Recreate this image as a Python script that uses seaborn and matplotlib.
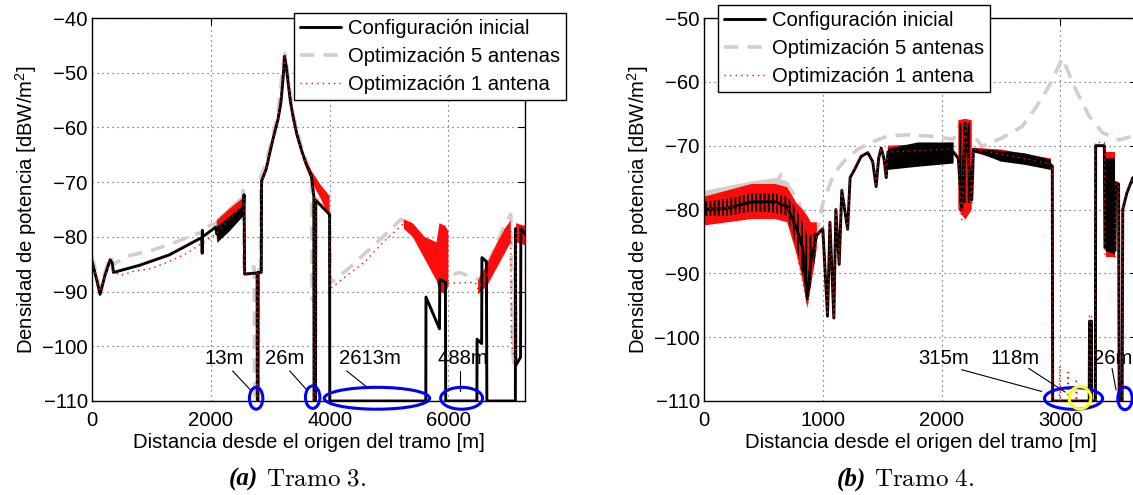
import numpy as np
import pandas as pd
import matplotlib
matplotlib.use("Agg")
import matplotlib.pyplot as plt
import seaborn as sns
from matplotlib.patches import Ellipse
from matplotlib.lines import Line2D

NaN = float("nan")

# ======================= DATA =======================
series_names = ["Configuración inicial", "Optimización 5 antenas", "Optimización 1 antena"]

# ---- Tramo 3 (x [m], density [dBW/m2]) ----
t3_ini = [(0, -84.5), (60, -87), (136, -90.5), (220, -87), (305, -84.2), (340, -84.8), (361, -86.5),
          (800, -85.2), (1300, -83.3), (1800, -80.4), (1852, -80.2), (1855, -83), (1858, -78.8), (1862, -80),
          (2085, -78.2), (2100, -79.5), (2550, -75), (2560, -72.3), (2570, -86.8), (2780, -86.6), (2783, -110),
          (2795, -110), (2798, -86.5), (2850, -86.5), (2855, -69.8), (2930, -67.7), (3045, -62.2), (3130, -58.6),
          (3180, -55.5), (3215, -51.3), (3243, -47.0), (3270, -48.8), (3299, -51.6), (3340, -55.2), (3384, -58.0),
          (3450, -61.3), (3525, -64.1), (3610, -66.8), (3695, -68.9), (3735, -72.6),
          (3738, -110), (3764, -110), (3767, -73.3), (3900, -74.8), (4000, -75.9), (4003, -110), (5620, -110),
          (5623, -91), (5850, -96.8), (5856, -87.8), (5950, -88.3), (5955, -110), (6480, -110), (6483, -98.7),
          (6560, -99.5), (6565, -83.8), (6640, -84.5), (6645, -100.8), (6648, -110), (7128, -110),
          (7130, -78.5), (7135, -103.5), (7215, -102), (7220, -78.5), (7290, -79.5)]
t3_opt5 = [(0, -83.5), (136, -89.5), (305, -83.5), (361, -85), (600, -83.5), (1000, -82.5), (1400, -81),
           (1800, -79.3), (1852, -79.3), (1855, -82), (1858, -78.5), (2085, -77.5), (2540, -73), (2545, -71.5),
           (2560, -86), (2730, -85.5), (2740, -109), (2800, -109), (2805, -86), (2840, -86), (2845, -69),
           (2930, -66.5), (3045, -61.5), (3130, -57.5), (3230, -47.5), (3250, -46.5), (3300, -50.5), (3384, -57.5),
           (3525, -63.5), (3690, -68.5), (3700, -72), (3705, -91.4), (3760, -91), (3765, -73), (3850, -73.5),
           (3950, -74.5), (4000, -75.5), (4010, -88.5), (4300, -86), (4600, -83), (4900, -80), (5200, -76.8),
           (5400, -78), (5600, -81.5), (5800, -85), (5950, -87.5), (6180, -86.5), (6520, -87.8), (6700, -84),
           (6900, -79), (7050, -75.9), (7080, -101), (7100, -103), (7130, -80), (7290, -78)]
t3_opt1 = [(0, -84.5), (136, -90), (305, -84.5), (361, -86.5), (500, -87), (700, -86.3), (1000, -85.8),
           (1300, -84.5), (1600, -83), (1900, -80.8), (2085, -79.5), (2550, -74), (2560, -73), (2570, -87),
           (2770, -86.5), (2775, -110), (2790, -110), (2795, -86.5), (2850, -86.5), (2855, -70), (2930, -67.5),
           (3045, -62), (3130, -58.5), (3215, -51), (3243, -47.2), (3299, -51.8), (3384, -58.2), (3525, -64.5),
           (3695, -69), (3730, -72), (3733, -110), (3760, -110), (3763, -73), (4000, -75.5), (4006, -89.5),
           (4300, -87), (4600, -84.5), (4900, -81), (5250, -77.5), (5600, -82), (5850, -86), (6000, -88.5),
           (6450, -88.3), (6500, -89.5), (6800, -84), (7050, -79), (7065, -100), (7130, -103), (7140, -79),
           (7290, -79.5)]
# oscillation envelopes (x, lower, upper)
t3_ini_band = [(2100, -81, -78), (2300, -79, -76.3), (2550, -76, -74)]
t3_opt5_band = [(2100, -79, -76.5), (2300, -77, -74.5), (2550, -75, -72)]
t3_opt1_band = [(2100, -80.5, -77), (2300, -78.5, -75), (2550, -76, -72.8), (NaN, NaN, NaN),
                (3550, -65.8, -65), (3700, -70, -68), (3850, -73, -70.5), (4000, -76.5, -72.5), (NaN, NaN, NaN),
                (5250, -78.5, -76.8), (5400, -80, -77.5), (5600, -84, -80), (5800, -88, -81), (5850, -90, -77.5),
                (5950, -90.5, -78), (6000, -89, -79), (NaN, NaN, NaN),
                (6500, -90.5, -88), (6650, -89, -85), (6800, -86, -81.5), (6950, -83, -78.5), (7050, -81, -77),
                (NaN, NaN, NaN), (7140, -81, -77.5), (7290, -81.5, -78)]
t3_gap_labels = ["13m", "26m", "2613m", "488m"]

# ---- Tramo 4 ----
t4_ini = [(0, -80), (200, -79.8), (400, -78.8), (600, -78.8), (700, -79.5), (780, -83), (830, -86), (870, -94),
          (900, -88), (950, -84), (1000, -83), (1040, -96.7), (1060, -82), (1093, -97), (1110, -80), (1138, -88.6),
          (1160, -77), (1209, -83.1), (1230, -75), (1266, -73.8), (1322, -71.7), (1379, -71.1), (1420, -72.5),
          (1449, -76.4), (1470, -72), (1492, -70.4), (1515, -72), (1534, -75), (1548, -71), (1800, -71.5),
          (2100, -71), (2141, -72), (2169, -80), (2200, -66.5), (2254, -78.5), (2268, -70.6), (2340, -70.9),
          (2500, -71.6), (2700, -72.1), (2920, -73), (2932, -73.2), (2935, -110), (3243, -110), (3245, -97.5),
          (3262, -97.5), (3264, -110), (3295, -110), (3297, -70), (3370, -70), (3375, -86), (3460, -86.5),
          (3465, -75.8), (3490, -76), (3495, -110), (3520, -110), (3525, -80), (3560, -77.4), (3610, -75),
          (3645, -78)]
t4_opt5 = [(0, -78), (200, -77), (400, -76), (600, -76), (650, -74.5), (700, -76), (800, -79), (870, -83),
           (930, -85), (960, -83), (1000, -79), (1096, -74.3), (1200, -72), (1294, -70.6), (1400, -69.5),
           (1548, -68.5), (1700, -68.3), (1900, -68.5), (2100, -69), (2141, -67), (2254, -68), (2339, -70.1),
           (2508, -68.8), (2678, -67.0), (2791, -64.1), (2904, -60.7), (3017, -56.3), (3130, -61.25),
           (3243, -65.4), (3356, -68), (3497, -69.1), (3610, -68.5), (3645, -70)]
t4_opt1 = [(0, -80), (700, -79), (870, -95), (950, -84), (1000, -83), (1040, -96.5), (1060, -82), (1093, -97),
           (1110, -80), (1138, -88.5), (1160, -77), (1209, -83), (1230, -75), (1266, -73.5), (1322, -71.5),
           (1379, -71), (1420, -72.3), (1449, -76), (1470, -72), (1492, -70.3), (1515, -72), (1534, -74.8),
           (1548, -71), (2100, -70.5), (2141, -72), (2169, -81.6), (2200, -66), (2254, -79), (2268, -70.5),
           (2920, -72.8), (2932, -73), (2935, -110), (2990, -110), (2995, -104.5), (3000, -110), (3060, -110),
           (3065, -105.5), (3070, -110), (3130, -110), (3135, -106.5), (3140, -110), (3243, -110), (3245, -96.5),
           (3262, -96.5), (3264, -110), (3295, -110), (3297, -69.5), (3370, -69.5), (3375, -87), (3460, -87.5),
           (3465, -75.5), (3490, -76), (3495, -110), (3520, -110), (3525, -80), (3560, -77), (3610, -75),
           (3645, -77.5)]
# envelope where the initial configuration oscillates densely under the 1-antenna trace
t4_ini_band_mixed = [(0, -81, -78.8), (200, -81, -78.3), (400, -80.3, -77.5), (600, -80.5, -77.5), (700, -81, -78),
                     (780, -86, -80), (830, -90, -82), (870, -94, -84), (900, -92, -84), (950, -86, -83.5),
                     (NaN, NaN, NaN), (2141, -79, -66.5), (2254, -79, -66.5)]
t4_ini_band = [(1548, -73.8, -70.5), (1800, -73.3, -69.5), (2100, -72.8, -69.5), (NaN, NaN, NaN),
               (2260, -71, -70.5), (2340, -71.3, -70.6), (2500, -72.5, -70.8), (2700, -73, -71.2),
               (2920, -73.8, -72.2), (NaN, NaN, NaN), (3380, -86.5, -72), (3460, -87, -72)]
t4_opt5_band = [(0, -79, -77), (400, -77.5, -75.5), (600, -77, -75), (700, -78, -75.5)]
t4_opt1_band = [(0, -82.5, -78), (200, -82, -77), (400, -81.5, -76), (600, -81.5, -76), (700, -82, -76.5),
                (780, -87, -79), (830, -91, -80), (870, -95.5, -81), (900, -92, -82), (950, -86, -82), (NaN, NaN, NaN),
                (1548, -73, -70), (1800, -72.5, -69.8), (2100, -72.5, -69.5), (NaN, NaN, NaN),
                (2141, -80, -66), (2200, -81.6, -65.8), (2254, -80, -66), (NaN, NaN, NaN),
                (2260, -71, -70.3), (2500, -72.3, -70.6), (2920, -73.5, -72), (NaN, NaN, NaN),
                (3380, -87.5, -71), (3460, -87.5, -71)]
t4_gap_labels = ["315m", "118m", "26m"]

x_ticks_t3 = [0, 2000, 4000, 6000]
x_ticks_t4 = [0, 1000, 2000, 3000]
y_ticks_t3 = [-40, -50, -60, -70, -80, -90, -100, -110]
y_ticks_t4 = [-50, -60, -70, -80, -90, -100, -110]

# ======================= STYLE =======================
sns.set_style("white")
FS = 14.6
plt.rcParams.update({
    "font.family": ["Liberation Sans", "DejaVu Sans"],
    "font.size": FS,
    "mathtext.fontset": "custom",
    "mathtext.rm": "Liberation Sans",
    "mathtext.it": "Liberation Sans:italic",
    "mathtext.bf": "Liberation Sans:bold",
    "axes.edgecolor": "black",
    "axes.linewidth": 1.0,
    "text.color": "black",
    "axes.labelcolor": "black",
    "xtick.color": "black",
    "ytick.color": "black",
    "hatch.linewidth": 1.4,
})

C_INI = "black"
C_OPT5 = "#d2cec8"
C_OPT1 = "#ff0000"

W, H = 1133, 495
fig = plt.figure(figsize=(W / 100, H / 100), dpi=100)
fig.patch.set_facecolor("white")


def px_axes(l, t, r, b):
    return fig.add_axes([l / W, 1 - b / H, (r - l) / W, (b - t) / H])


def df(pairs):
    return pd.DataFrame(pairs, columns=["x", "y"])


def band(ax, rows, color, z, alpha=1.0, hatch=None):
    a = np.array(rows, dtype=float)
    if hatch:
        ax.fill_between(a[:, 0], a[:, 1], a[:, 2], facecolor="none", edgecolor=color, hatch=hatch,
                        lw=0, zorder=z)
    else:
        ax.fill_between(a[:, 0], a[:, 1], a[:, 2], color=color, lw=0, zorder=z, alpha=alpha)


def panel(ax, ini, opt5, opt1, ini_b, opt5_b, opt1_b, xlim, ylim, xt, yt):
    band(ax, opt5_b, C_OPT5, 1.6)
    band(ax, opt1_b, C_OPT1, 2.0, 0.95)
    band(ax, ini_b, C_INI, 2.2)
    sns.lineplot(data=df(opt5), x="x", y="y", ax=ax, sort=False, estimator=None, color=C_OPT5,
                 lw=2.6, zorder=1.8)
    ax.lines[-1].set_dashes((4, 2.5))
    sns.lineplot(data=df(ini), x="x", y="y", ax=ax, sort=False, estimator=None, color=C_INI,
                 lw=2.1, zorder=2.5)
    sns.lineplot(data=df(opt1), x="x", y="y", ax=ax, sort=False, estimator=None, color=C_OPT1,
                 lw=1.0, zorder=3.0)
    ax.lines[-1].set_dashes((1, 3))
    ax.set_xlim(*xlim)
    ax.set_ylim(*ylim)
    ax.set_xticks(xt)
    ax.set_yticks(yt)
    ax.grid(True, color="#444444", lw=0.8, linestyle=(0, (1, 3.5)))
    ax.set_axisbelow(True)
    ax.tick_params(direction="in", top=True, right=True, length=5, width=0.8, labelsize=FS)
    ax.tick_params(axis="y", pad=3)
    ax.tick_params(axis="x", pad=7)
    ax.set_xlabel("Distancia desde el origen del tramo [m]", fontsize=FS, labelpad=2)
    ax.set_ylabel("Densidad de potencia [dBW/m$^2$]", fontsize=FS, labelpad=2)
    for s in ax.spines.values():
        s.set_color("black")
        s.set_linewidth(1.0)
        s.set_zorder(5)
    return [Line2D([], [], color=C_INI, lw=2.1),
            Line2D([], [], color=C_OPT5, lw=2.6, dashes=(4, 2.5)),
            Line2D([], [], color=C_OPT1, lw=1.0, dashes=(1, 3))]


ax3 = px_axes(92, 18, 525, 401)
ax4 = px_axes(704, 18, 1137, 401)

h = panel(ax3, t3_ini, t3_opt5, t3_opt1, t3_ini_band, t3_opt5_band, t3_opt1_band,
          (0, 7290), (-110, -40), x_ticks_t3, y_ticks_t3)
panel(ax4, t4_ini, t4_opt5, t4_opt1, t4_ini_band, t4_opt5_band, t4_opt1_band,
      (0, 3645), (-110, -50), x_ticks_t4, y_ticks_t4)
band(ax4, t4_ini_band_mixed, C_INI, 2.3, hatch="||||")

for ax, (lx, ty) in ((ax3, (294, 13)), (ax4, (718, 5))):
    leg = ax.legend(h, series_names, loc="upper left", bbox_to_anchor=(lx / W, 1 - ty / H),
                    bbox_transform=fig.transFigure, borderaxespad=0, fancybox=False, framealpha=1,
                    edgecolor="black", fontsize=FS, handlelength=2.0, handletextpad=0.35,
                    labelspacing=0.45, borderpad=0.3)
    leg.get_frame().set_linewidth(1.0)
    leg.set_zorder(10)

# ---- annotations (gap ellipses) ----
ann3 = [  # text x, text y, leader (x0,y0,x1,y1), ellipse (cx, cy, w, h)
    (2225, -102.3, (2367, -104.5, 2678, -108.1), (2763, -109.5, 226, 4.0)),
    (3243, -102.3, (3328, -104.5, 3627, -108.1), (3715, -109.3, 243, 4.1)),
    (4684, -102.3, (4288, -104.5, 4655, -107.7), (4797, -109.5, 1774, 4.0)),
    (6237, -102.3, (6192, -104.5, 6192, -108.1), (6223, -109.5, 706, 4.0)),
]
ann4 = [
    (2014, -103.4, (2169, -105.1, 2842, -108.5), None),
    (2621, -103.4, (2734, -104.9, 3040, -108.6), (3111, -109.6, 489, 3.4)),
    (3440, -103.4, (3435, -104.9, 3469, -108.3), (3544, -109.6, 121, 3.5)),
]
for ax, labels, ann in ((ax3, t3_gap_labels, ann3), (ax4, t4_gap_labels, ann4)):
    for lab, (tx, ty, ln, el) in zip(labels, ann):
        ax.text(tx, ty, lab, ha="center", va="center", fontsize=FS, zorder=8)
        ax.plot([ln[0], ln[2]], [ln[1], ln[3]], color="black", lw=0.8, zorder=8)
        if el is not None:
            ax.add_patch(Ellipse((el[0], el[1]), el[2], el[3], fill=False, edgecolor="#0000ff",
                                 lw=2.2, zorder=9, clip_on=False))
ax4.add_patch(Ellipse((3165, -109.5), 183, 3.5, fill=False, edgecolor="#ffff00", lw=2.2, zorder=9.5,
                      clip_on=False))

# ---- captions ----
for cx, letter, name in ((258, "(a)", "Tramo 3."), (866, "(b)", "Tramo 4.")):
    fig.text(cx / W, 1 - 479 / H, letter, ha="right", va="center", fontsize=18,
             family="Liberation Serif", weight="bold", style="italic")
    fig.text((cx + 8) / W, 1 - 479 / H, r"$\mathrm{" + name.replace(" ", r"\ ") + "}$",
             ha="left", va="center", fontsize=18, math_fontfamily="cm")

fig.savefig("out.png", dpi=100, facecolor="white")
